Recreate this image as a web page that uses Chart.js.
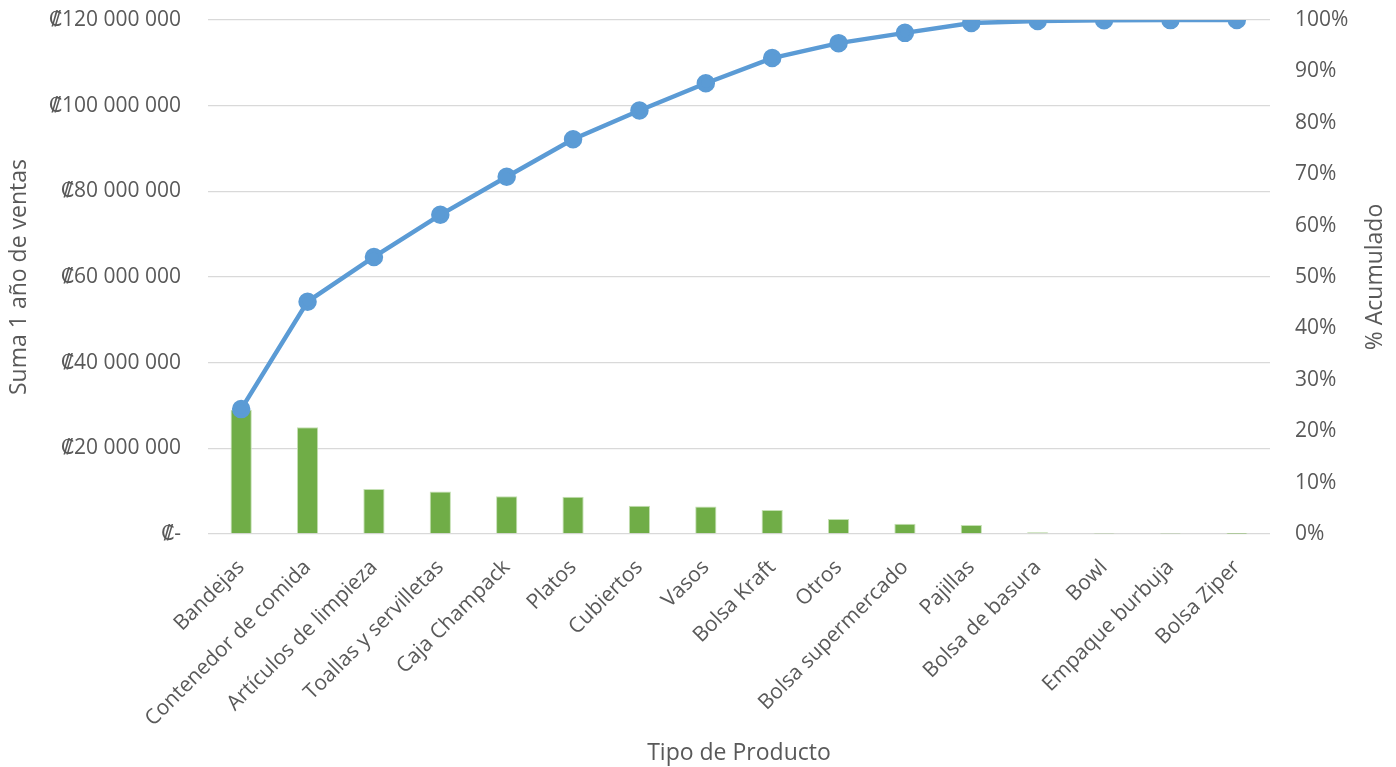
<!DOCTYPE html>
<html>
<head>
<meta charset="utf-8">
<script src="https://cdn.jsdelivr.net/npm/chart.js@4"></script>
<style>
  html, body { margin: 0; padding: 0; background: #fff; }
  #wrap { width: 1396px; height: 767px; }
</style>
</head>
<body>
<div id="wrap"><canvas id="myCanvas" width="1396" height="767"></canvas></div>
<script>
// categorias y valores
let productos = ["Bandejas", "Contenedor de comida", "Artículos de limpieza", "Toallas y servilletas",
  "Caja Champack", "Platos", "Cubiertos", "Vasos", "Bolsa Kraft", "Otros", "Bolsa supermercado",
  "Pajillas", "Bolsa de basura", "Bowl", "Empaque burbuja", "Bolsa Ziper"];
let ventas = [29000000, 24900000, 10500000, 9900000, 8800000, 8700000, 6600000, 6400000,
  5600000, 3500000, 2400000, 2100000, 400000, 60000, 30000, 20000];
let acumulado = [24.3, 45.2, 53.9, 62.1, 69.5, 76.8, 82.4, 87.7, 92.6, 95.5, 97.5, 99.4, 99.8, 99.95, 99.98, 100];

let fuente = "'Open Sans', 'DejaVu Sans', sans-serif";
let gris = "#595959";

function colones(v) {
  if (v === 0) return "₡-";
  return "₡" + String(v).replace(/\B(?=(\d{3})+(?!\d))/g, " ");
}

// el titulo del eje derecho se lee de abajo hacia arriba
let tituloDerecho = {
  id: "tituloDerecho",
  afterDraw: function (chart) {
    let c = chart.ctx;
    let area = chart.chartArea;
    c.save();
    c.translate(1375, (area.top + area.bottom) / 2);
    c.rotate(-Math.PI / 2);
    c.fillStyle = gris;
    c.font = "23px " + fuente;
    c.textAlign = "center";
    c.textBaseline = "middle";
    c.fillText("% Acumulado", 0, 0);
    c.restore();
  },
};

creaGrafico();

function creaGrafico() {
  let ctx = document.querySelector("#myCanvas").getContext("2d");

  new Chart(ctx, {
    data: {
      labels: productos,
      datasets: [
        {
          type: "line",
          label: "% Acumulado",
          data: acumulado,
          yAxisID: "y1",
          borderColor: "#5B9BD5",
          backgroundColor: "#5B9BD5",
          borderWidth: 4.5,
          pointRadius: 7,
          pointHoverRadius: 7,
          tension: 0,
          order: 0,
        },
        {
          type: "bar",
          label: "Suma 1 año de ventas",
          data: ventas,
          yAxisID: "y",
          backgroundColor: "#70AD47",
          borderColor: "#c5e0b4",
          borderWidth: 1,
          barPercentage: 0.32,
          categoryPercentage: 1,
          order: 1,
        },
      ],
    },
    options: {
      responsive: false,
      animation: false,
      layout: { padding: { top: 20, left: 0, right: 0, bottom: 0 } },
      plugins: {
        legend: { display: false },
        tooltip: { enabled: false },
      },
      scales: {
        x: {
          offset: true,
          grid: { display: false },
          border: { display: false },
          ticks: {
            minRotation: 45,
            maxRotation: 45,
            autoSkip: false,
            padding: 13,
            color: gris,
            font: { family: fuente, size: 21 },
          },
          title: {
            display: true,
            text: "Tipo de Producto",
            color: gris,
            font: { family: fuente, size: 23 },
            padding: { top: 4, bottom: 0 },
          },
          afterFit: function (axis) { axis.height = 233; },
        },
        y: {
          position: "left",
          min: 0,
          max: 120000000,
          grid: { color: "#d9d9d9", lineWidth: 1.3, drawTicks: false },
          border: { display: false },
          ticks: {
            stepSize: 20000000,
            padding: 27,
            color: gris,
            font: { family: fuente, size: 21 },
            callback: function (v) { return colones(v); },
          },
          title: {
            display: true,
            text: "Suma 1 año de ventas",
            color: gris,
            font: { family: fuente, size: 23 },
            padding: { top: 6, bottom: 4 },
          },
          afterFit: function (axis) {
            axis.width = 208;
            axis.paddingTop = 0;
            axis.paddingBottom = 0;
          },
        },
        y1: {
          position: "right",
          min: 0,
          max: 100,
          grid: { display: false },
          border: { display: false },
          ticks: {
            stepSize: 10,
            padding: 17,
            color: gris,
            font: { family: fuente, size: 21 },
            callback: function (v) { return v + "%"; },
          },
          afterFit: function (axis) {
            axis.width = 126;
            axis.paddingTop = 0;
            axis.paddingBottom = 0;
          },
        },
      },
    },
    plugins: [tituloDerecho],
  });
}
</script>
</body>
</html>
